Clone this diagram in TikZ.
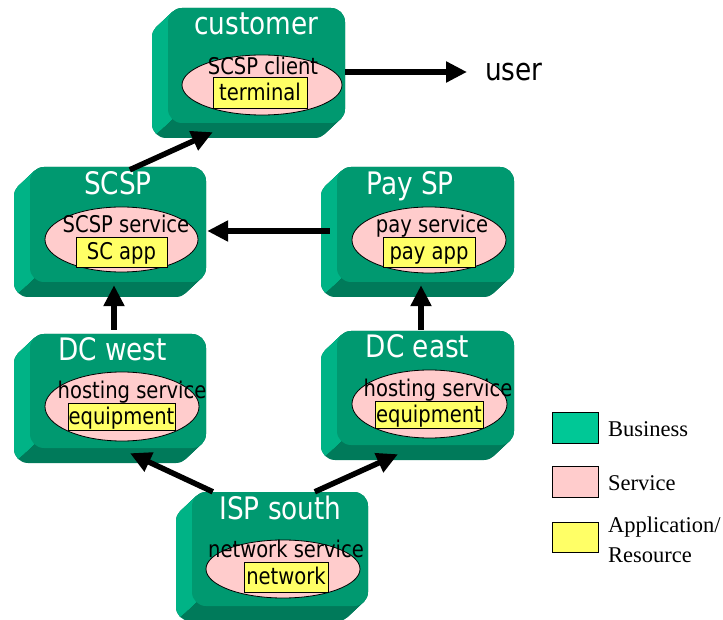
\documentclass[tikz,border=0pt]{standalone}
\usepackage{fontspec}
\setmainfont{Liberation Serif}
\newfontfamily\diafont{DejaVu Sans}[FakeStretch=0.85]
\usetikzlibrary{arrows.meta,shapes.geometric,fit}

\definecolor{bizfront}{RGB}{0,153,112}
\definecolor{bizside}{RGB}{0,179,134}
\definecolor{bizbottom}{RGB}{0,122,90}
\definecolor{legbiz}{RGB}{0,200,150}
\definecolor{svcpink}{RGB}{255,204,204}
\definecolor{resyellow}{RGB}{255,255,102}

% Bevelled business block: #1 name of the front face, #2 left, #3 top, #4 right, #5 bottom
\newcommand\bizbox[5]{%
  \begin{scope}
    % extruded body (bottom face colour)
    \foreach \t in {0,...,16}{%
      \fill[bizbottom, rounded corners=14pt, shift={(-\t,15*\t/16)}] (#2,#3) rectangle (#4,#5);}
    % left face, lighter
    \begin{scope}
      \clip (#2-40,#3-10) -- (#2+4.1,#3-10) -- (#2+4.1,#5-4.1)
            -- (#2+4.1-32,#5-4.1+30) -- (#2-40,#5-4.1+30) -- cycle;
      \foreach \t in {0,...,16}{%
        \fill[bizside, rounded corners=14pt, shift={(-\t,15*\t/16)}] (#2,#3) rectangle (#4,#5);}
    \end{scope}
    % front face
    \node[face, fit={(#2,#3) (#4,#5)}] (#1) {};
  \end{scope}}

\begin{document}
\begin{tikzpicture}[x=1pt,y=-1pt,
  face/.style={rectangle, rounded corners=14pt, fill=bizfront, inner sep=0pt, draw=none},
  title/.style={font=\diafont\fontsize{31}{31}\selectfont, text=white, inner sep=0pt, anchor=base},
  svctext/.style={font=\diafont\fontsize{23}{23}\selectfont, text=black, inner sep=0pt, anchor=base},
  svc/.style={ellipse, draw=black, line width=0.8pt, fill=svcpink, inner sep=0pt},
  res/.style={rectangle, draw=black, line width=0.8pt, fill=resyellow, inner sep=0pt,
              font=\diafont\fontsize{23}{23}\selectfont, text height=19.2pt, text depth=4pt},
  arr/.style={line width=5.5pt, -{Triangle[length=21pt,width=20pt]}},
  legbox/.style={draw=black, line width=0.6pt, minimum width=46pt, minimum height=31pt, inner sep=0pt},
  legtext/.style={font=\fontsize{22.5}{22.5}\selectfont, anchor=base west, inner sep=0pt}]

\useasboundingbox (0,0) rectangle (723,620);
\fill[white] (0,0) rectangle (723,620);

% business blocks
\bizbox{custF}{168}{8}{345}{123}
\bizbox{scspF}{30}{167}{206}{282}
\bizbox{payF}{337}{167}{514}{282}
\bizbox{dcwF}{30}{334}{206}{448}
\bizbox{dceF}{337}{331}{514}{445}
\bizbox{ispF}{192}{492}{368}{606}

% block titles
\node[title] (custT) at (256.5,35) {customer};
\node[title] (scspT) at (118,195) {SCSP};
\node[title] (payT) at (410,195) {Pay SP};
\node[title] (dcwT) at (112.5,360) {DC west};
\node[title] (dceT) at (417.5,358) {DC east};
\node[title] (ispT) at (280.5,519) {ISP south};

% services
\node[svc, minimum width=160pt, minimum height=60pt] (custS) at (262,85) {};
\node[svc, minimum width=153pt, minimum height=65pt] (scspS) at (121.5,239.5) {};
\node[svc, minimum width=154pt, minimum height=66pt] (payS) at (429,240) {};
\node[svc, minimum width=154pt, minimum height=69pt] (dcwS) at (122,406.5) {};
\node[svc, minimum width=155pt, minimum height=68pt] (dceS) at (429.5,404) {};
\node[svc, minimum width=154pt, minimum height=58pt] (ispS) at (283,569) {};

\node[svctext] (custST) at (263,75) {SCSP client};
\node[svctext] (scspST) at (126,233) {SCSP service};
\node[svctext] (payST) at (432,233) {pay service};
\node[svctext] (dcwST) at (132,398) {hosting service};
\node[svctext] (dceST) at (438,396) {hosting service};
\node[svctext] (ispST) at (286,557) {network service};

% applications / resources
\node[res, minimum width=94pt, minimum height=31pt] (custR) at (260,92.5) {terminal};
\node[res, minimum width=91pt, minimum height=30pt] (scspR) at (121.5,252) {SC app};
\node[res, minimum width=92pt, minimum height=30pt] (payR) at (429,252) {pay app};
\node[res, minimum width=107pt, minimum height=27pt] (dcwR) at (121.5,416.5) {equipment};
\node[res, minimum width=108pt, minimum height=27pt] (dceR) at (429,414.5) {equipment};
\node[res, minimum width=84pt, minimum height=30pt] (ispR) at (286,577) {network};

% end user
\node[font=\diafont\fontsize{31}{31}\selectfont, anchor=west, inner sep=0pt] (user) at (485,72) {user};

% relations
\draw[arr] ([yshift=-6.5pt]custF.east) -- ([xshift=-18pt]user.west);
\draw[arr] ([xshift=100pt,yshift=-3pt]scspF.north west) -- ([xshift=45pt,yshift=-9pt]custF.south west);
\draw[arr] ([xshift=-7pt,yshift=-6.5pt]payF.west) -- ([xshift=1pt,yshift=-6.5pt]scspF.east);
\draw[arr] ([xshift=-4pt,yshift=4pt]dcwF.north) -- ([xshift=-4pt,yshift=-3pt]scspF.south);
\draw[arr] ([xshift=-4.5pt,yshift=1pt]dceF.north) -- ([xshift=-4.5pt,yshift=-3pt]payF.south);
\draw[arr] ([xshift=21pt]ispF.north west) -- ([xshift=12pt,yshift=-5pt]dcwF.south);
\draw[arr] ([xshift=123pt]ispF.north west) -- ([xshift=-27.5pt,yshift=-9pt]dceF.south);

% legend
\node[legbox, fill=legbiz] (lgBiz) at (575,427.5) {};
\node[legbox, fill=svcpink] (lgSvc) at (575,481.5) {};
\node[legbox, fill=resyellow, minimum height=30pt] (lgRes) at (575,537) {};
\node[legtext] (lgBizT) at (608,436) {Business};
\node[legtext] (lgSvcT) at (608,490) {Service};
\node[legtext] (lgResT1) at (608,532) {Application/};
\node[legtext] (lgResT2) at (608,562) {Resource};

\end{tikzpicture}
\end{document}
